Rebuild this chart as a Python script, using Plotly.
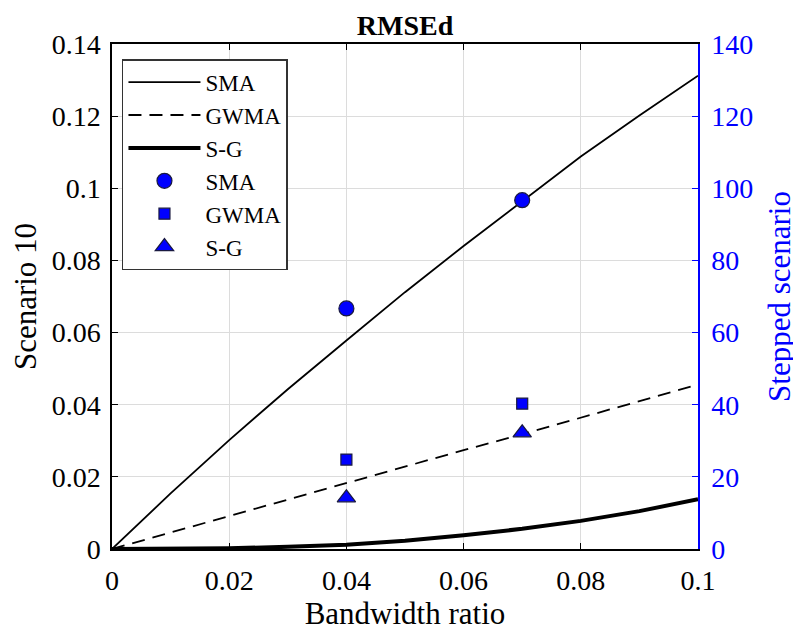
import plotly.graph_objects as go

# Data
bw_ratio = [0.0, 0.01, 0.02, 0.03, 0.04, 0.05, 0.06, 0.07, 0.08, 0.09, 0.10]
sma_line = [0.0, 0.0154, 0.0302, 0.0443, 0.0578, 0.0712, 0.0840, 0.0965, 0.1088, 0.1202, 0.1312]
gwma_line = [0.0, 0.0046, 0.0092, 0.0138, 0.0184, 0.0229, 0.0274, 0.0318, 0.0364, 0.0410, 0.0456]
sg_line = [0.0, 0.00003, 0.0002, 0.0006, 0.0012, 0.0023, 0.0038, 0.0056, 0.0078, 0.0105, 0.0138]

step_x = [0.04, 0.07]
sma_step = [66.7, 96.7]
gwma_step = [24.8, 40.3]
sg_step = [14.2, 32.2]

x_ticks = [0, 0.02, 0.04, 0.06, 0.08, 0.1]
x_labels = ["0", "0.02", "0.04", "0.06", "0.08", "0.1"]
y_ticks = [0, 0.02, 0.04, 0.06, 0.08, 0.1, 0.12, 0.14]
y_labels = ["0", "0.02", "0.04", "0.06", "0.08", "0.1", "0.12", "0.14"]
y2_ticks = [0, 20, 40, 60, 80, 100, 120, 140]

FONT = "Liberation Serif"
BLUE = "#0000ff"

fig = go.Figure()
fig.add_trace(go.Scatter(x=bw_ratio, y=sma_line, mode="lines", name="SMA",
                         line=dict(color="black", width=1.8)))
fig.add_trace(go.Scatter(x=bw_ratio, y=gwma_line, mode="lines", name="GWMA",
                         line=dict(color="black", width=1.8, dash="13px,8px")))
fig.add_trace(go.Scatter(x=bw_ratio, y=sg_line, mode="lines", name="S-G",
                         line=dict(color="black", width=4)))
mk_line = dict(color="#1a1a40", width=1.2)
fig.add_trace(go.Scatter(x=step_x, y=sma_step, mode="markers", name="SMA", yaxis="y2",
                         marker=dict(symbol="circle", size=15, color=BLUE, line=mk_line)))
fig.add_trace(go.Scatter(x=step_x, y=gwma_step, mode="markers", name="GWMA", yaxis="y2",
                         marker=dict(symbol="square", size=11, color=BLUE, line=mk_line)))
fig.add_trace(go.Scatter(x=step_x, y=sg_step, mode="markers", name="S-G", yaxis="y2",
                         marker=dict(symbol="triangle-up", size=16, color=BLUE, line=mk_line)))

fig.update_layout(
    width=801, height=634,
    margin=dict(l=104, r=111, t=36, b=93, autoexpand=False),
    paper_bgcolor="white", plot_bgcolor="white",
    font=dict(family=FONT, size=28, color="black"),
    title=dict(text="<b>RMSEd</b>", x=0.5, xref="paper", xanchor="center",
               y=1 - 17 / 634, yref="container", yanchor="middle",
               font=dict(family=FONT, size=28, color="black")),
    showlegend=True,
    legend=dict(x=0.017, y=0.97, xanchor="left", yanchor="top",
                bgcolor="white", bordercolor="#333333", borderwidth=1.5,
                font=dict(family=FONT, size=23, color="black"),
                itemwidth=72, tracegroupgap=0),
    xaxis=dict(range=[0, 0.1], tickvals=x_ticks, ticktext=x_labels,
               showgrid=True, gridcolor="#dcdcdc", gridwidth=1,
               showline=True, linecolor="black", linewidth=1.5, mirror="ticks",
               ticks="inside", ticklen=6, tickcolor="black", zeroline=False,
               automargin=False, ticklabelstandoff=6,
               title=dict(text="Bandwidth ratio", font=dict(size=31), standoff=6),
               tickfont=dict(size=28)),
    yaxis=dict(range=[0, 0.14], tickvals=y_ticks, ticktext=y_labels,
               showgrid=True, gridcolor="#dcdcdc", gridwidth=1,
               showline=True, linecolor="black", linewidth=1.5,
               ticks="inside", ticklen=6, tickcolor="black", zeroline=False,
               automargin=False, ticklabelstandoff=4,
               title=dict(text="Scenario 10", font=dict(size=31), standoff=8),
               tickfont=dict(size=28)),
    yaxis2=dict(range=[0, 140], tickvals=y2_ticks,
                overlaying="y", side="right", anchor="x",
                showgrid=False, showline=True, linecolor=BLUE, linewidth=1.5,
                ticks="inside", ticklen=6, tickcolor=BLUE, zeroline=False,
                automargin=False, ticklabelstandoff=6,
                tickfont=dict(size=28, color=BLUE),
                title=dict(text="Stepped scenario", font=dict(size=31, color=BLUE), standoff=16)),
)

fig.write_html("out.html")
